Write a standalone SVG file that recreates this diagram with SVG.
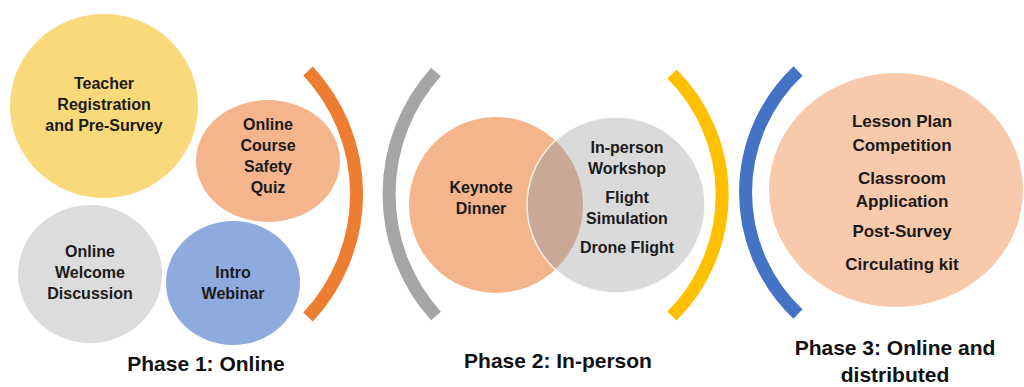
<svg xmlns="http://www.w3.org/2000/svg" width="1024" height="387" viewBox="0 0 1024 387">
<style>
.t{font-family:"Liberation Sans",Arial,sans-serif;font-weight:bold;font-size:16px;fill:#1a1a1a;text-anchor:middle}
.t3{font-size:17px}
.ph{font-family:"Liberation Sans",Arial,sans-serif;font-weight:bold;font-size:21px;fill:#111;text-anchor:middle}
.arc{fill:none;stroke-width:13;stroke-linecap:butt}
</style>
<defs>
<clipPath id="kc"><ellipse cx="496" cy="205" rx="87" ry="88"/></clipPath>
</defs>
<rect width="1024" height="387" fill="#ffffff"/>
<g id="connectors">
<path class="arc" stroke="#ED7D31" d="M 308 71 A 180 180 0 0 1 308 317"/>
<path class="arc" stroke="#A5A5A5" d="M 436 72 A 182 182 0 0 0 436 316"/>
<path class="arc" stroke="#FFC000" d="M 672 74 A 171 171 0 0 1 672 316"/>
<path class="arc" stroke="#4472C4" d="M 798 71 A 167 167 0 0 0 798 314"/>
</g>
<g id="teacher-registration">
<ellipse cx="104" cy="106" rx="94" ry="92" fill="#FAD97A"/>
<text class="t" x="104" y="89">Teacher</text>
<text class="t" x="104" y="110">Registration</text>
<text class="t" x="104" y="131">and Pre-Survey</text>
</g>
<g id="safety-quiz">
<ellipse cx="268" cy="161" rx="72" ry="61" fill="#F4B48C"/>
<text class="t" x="268" y="130">Online</text>
<text class="t" x="268" y="151">Course</text>
<text class="t" x="268" y="172">Safety</text>
<text class="t" x="268" y="193">Quiz</text>
</g>
<g id="welcome-discussion">
<ellipse cx="90" cy="274" rx="72" ry="69" fill="#DCDCDC"/>
<text class="t" x="90" y="257">Online</text>
<text class="t" x="90" y="278">Welcome</text>
<text class="t" x="90" y="299">Discussion</text>
</g>
<g id="intro-webinar">
<ellipse cx="233" cy="283" rx="67" ry="62" fill="#8FAADC"/>
<text class="t" x="233" y="278">Intro</text>
<text class="t" x="233" y="299">Webinar</text>
</g>
<g id="keynote-dinner">
<ellipse cx="496" cy="205" rx="87" ry="88" fill="#F4B48C"/>
<text class="t" x="481" y="193">Keynote</text>
<text class="t" x="481" y="214">Dinner</text>
</g>
<g id="workshop">
<ellipse cx="616" cy="205" rx="89" ry="88" fill="#DADADA"/>
<ellipse cx="616" cy="205" rx="89" ry="88" fill="#C9A896" clip-path="url(#kc)"/>
<ellipse cx="616" cy="205" rx="89" ry="88" fill="none" stroke="#ffffff" stroke-width="1.5" stroke-opacity="0.8"/>
<text class="t" x="627" y="153">In-person</text>
<text class="t" x="627" y="174">Workshop</text>
<text class="t" x="627" y="203">Flight</text>
<text class="t" x="627" y="224">Simulation</text>
<text class="t" x="627" y="253">Drone Flight</text>
</g>
<g id="phase3-activities">
<ellipse cx="896" cy="190" rx="127" ry="117" fill="#F8C9AA"/>
<text class="t t3" x="902" y="127">Lesson Plan</text>
<text class="t t3" x="902" y="151">Competition</text>
<text class="t t3" x="902" y="184">Classroom</text>
<text class="t t3" x="902" y="207">Application</text>
<text class="t t3" x="902" y="237">Post-Survey</text>
<text class="t t3" x="902" y="270">Circulating kit</text>
</g>
<g id="labels">
<text class="ph" x="206" y="371">Phase 1: Online</text>
<text class="ph" x="558" y="368">Phase 2: In-person</text>
<text class="ph" x="895" y="355">Phase 3: Online and</text>
<text class="ph" x="895" y="382">distributed</text>
</g>
</svg>
